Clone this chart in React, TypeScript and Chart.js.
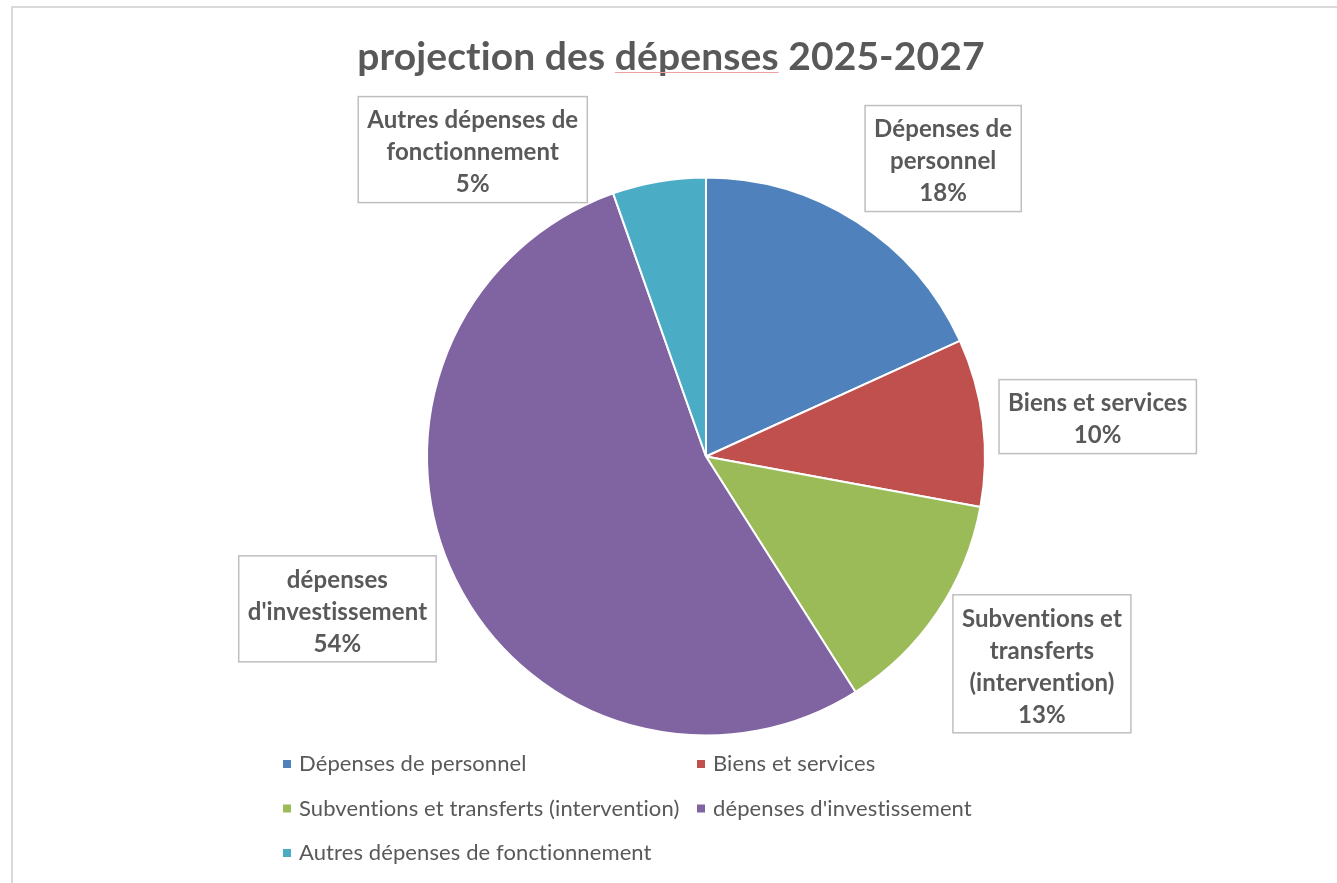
import { useEffect, useRef } from "react";
import { Chart, registerables } from "chart.js";

Chart.register(...registerables);

const titleText = "projection des dépenses 2025-2027";
const underlinedWord = "dépenses";
const categories = [
  "Dépenses de personnel",
  "Biens et services",
  "Subventions et transferts (intervention)",
  "dépenses d'investissement",
  "Autres dépenses de fonctionnement",
];
const values = [18.2, 9.7, 13.1, 53.6, 5.4];
const colors = ["#4F81BD", "#C0504D", "#9BBB59", "#8064A2", "#4BACC6"];
const labelLines = [
  ["Dépenses de", "personnel"],
  ["Biens et services"],
  ["Subventions et", "transferts", "(intervention)"],
  ["dépenses", "d'investissement"],
  ["Autres dépenses de", "fonctionnement"],
];
// label box centre offsets, in units of the pie radius
const labelOffsets = [
  [0.85, -1.068],
  [1.404, -0.143],
  [1.204, 0.743],
  [-1.321, 0.546],
  [-0.836, -1.1],
];

const TEXT = "#595959";
const FONT = "Lato, 'Open Sans', sans-serif";

function noLigatures(ctx: any) {
  if ("letterSpacing" in ctx) ctx.letterSpacing = "0.1px";
}

const decorPlugin = {
  id: "decor",
  beforeDraw(chart: any) {
    const ctx = chart.ctx as CanvasRenderingContext2D;
    ctx.save();
    ctx.fillStyle = "#ffffff";
    ctx.fillRect(0, 0, chart.width, chart.height);
    // frame
    ctx.strokeStyle = "#d9d9d9";
    ctx.lineWidth = 2;
    ctx.beginPath();
    ctx.moveTo(12, chart.height);
    ctx.lineTo(12, 7);
    ctx.lineTo(chart.width, 7);
    ctx.stroke();
    // title
    noLigatures(ctx);
    ctx.font = `bold 39px ${FONT}`;
    ctx.fillStyle = TEXT;
    ctx.textBaseline = "alphabetic";
    const tw = ctx.measureText(titleText).width;
    const tx = 671 - tw / 2;
    ctx.textAlign = "left";
    ctx.fillText(titleText, tx, 70);
    const idx = titleText.indexOf(underlinedWord);
    const pre = ctx.measureText(titleText.slice(0, idx)).width;
    const uw = ctx.measureText(underlinedWord).width;
    ctx.strokeStyle = "#f0a0a0";
    ctx.lineWidth = 1;
    ctx.beginPath();
    ctx.moveTo(tx + pre, 72.5);
    ctx.lineTo(tx + pre + uw, 72.5);
    ctx.stroke();
    ctx.restore();
  },
  afterDraw(chart: any) {
    const ctx = chart.ctx as CanvasRenderingContext2D;
    const meta = chart.getDatasetMeta(0);
    const arc = meta.data[0];
    const { x, y, outerRadius } = arc.getProps(["x", "y", "outerRadius"], true);
    const total = values.reduce((a, b) => a + b, 0);
    ctx.save();
    noLigatures(ctx);
    // data labels
    ctx.font = `bold 24px ${FONT}`;
    ctx.textAlign = "center";
    ctx.textBaseline = "middle";
    const lineH = 32;
    values.forEach((v, i) => {
      const lines = [...labelLines[i], Math.round((v / total) * 100) + "%"];
      const w = Math.max(...lines.map((l) => ctx.measureText(l).width)) + 18;
      const h = lines.length * lineH + 10;
      const cx = x + labelOffsets[i][0] * outerRadius;
      const cy = y + labelOffsets[i][1] * outerRadius;
      ctx.fillStyle = "#ffffff";
      ctx.fillRect(cx - w / 2, cy - h / 2, w, h);
      ctx.strokeStyle = "#bfbfbf";
      ctx.lineWidth = 1.5;
      ctx.strokeRect(cx - w / 2, cy - h / 2, w, h);
      ctx.fillStyle = TEXT;
      lines.forEach((l, k) => {
        ctx.fillText(l, cx, cy - h / 2 + 8 + lineH * (k + 0.5));
      });
    });
    // legend
    ctx.font = `22px ${FONT}`;
    ctx.textAlign = "left";
    ctx.textBaseline = "middle";
    categories.forEach((c, i) => {
      const col = i % 2;
      const row = Math.floor(i / 2);
      const mx = 283 + col * 414;
      const my = 764 + row * 44.5;
      ctx.fillStyle = colors[i];
      ctx.fillRect(mx, my - 4, 8, 8);
      ctx.fillStyle = TEXT;
      ctx.fillText(c, mx + 16, my);
    });
    ctx.restore();
  },
};

export default function App() {
  const ref = useRef<HTMLCanvasElement | null>(null);
  useEffect(() => {
    if (!ref.current) return;
    const chart = new Chart(ref.current, {
      type: "pie",
      data: {
        labels: categories,
        datasets: [
          {
            data: values,
            backgroundColor: colors,
            borderColor: "#ffffff",
            borderWidth: 2,
          },
        ],
      },
      options: {
        responsive: false,
        animation: false,
        devicePixelRatio: 1,
        layout: { padding: { left: 426, right: 351, top: 176, bottom: 146 } },
        plugins: {
          legend: { display: false },
          title: { display: false },
          tooltip: { enabled: false },
        },
      },
      plugins: [decorPlugin],
    } as any);
    return () => chart.destroy();
  }, []);
  return (
    <div style={{ position: "absolute", left: 0, top: 0, width: 1337, height: 883 }}>
      <canvas ref={ref} width={1337} height={883} style={{ display: "block" }} />
    </div>
  );
}
